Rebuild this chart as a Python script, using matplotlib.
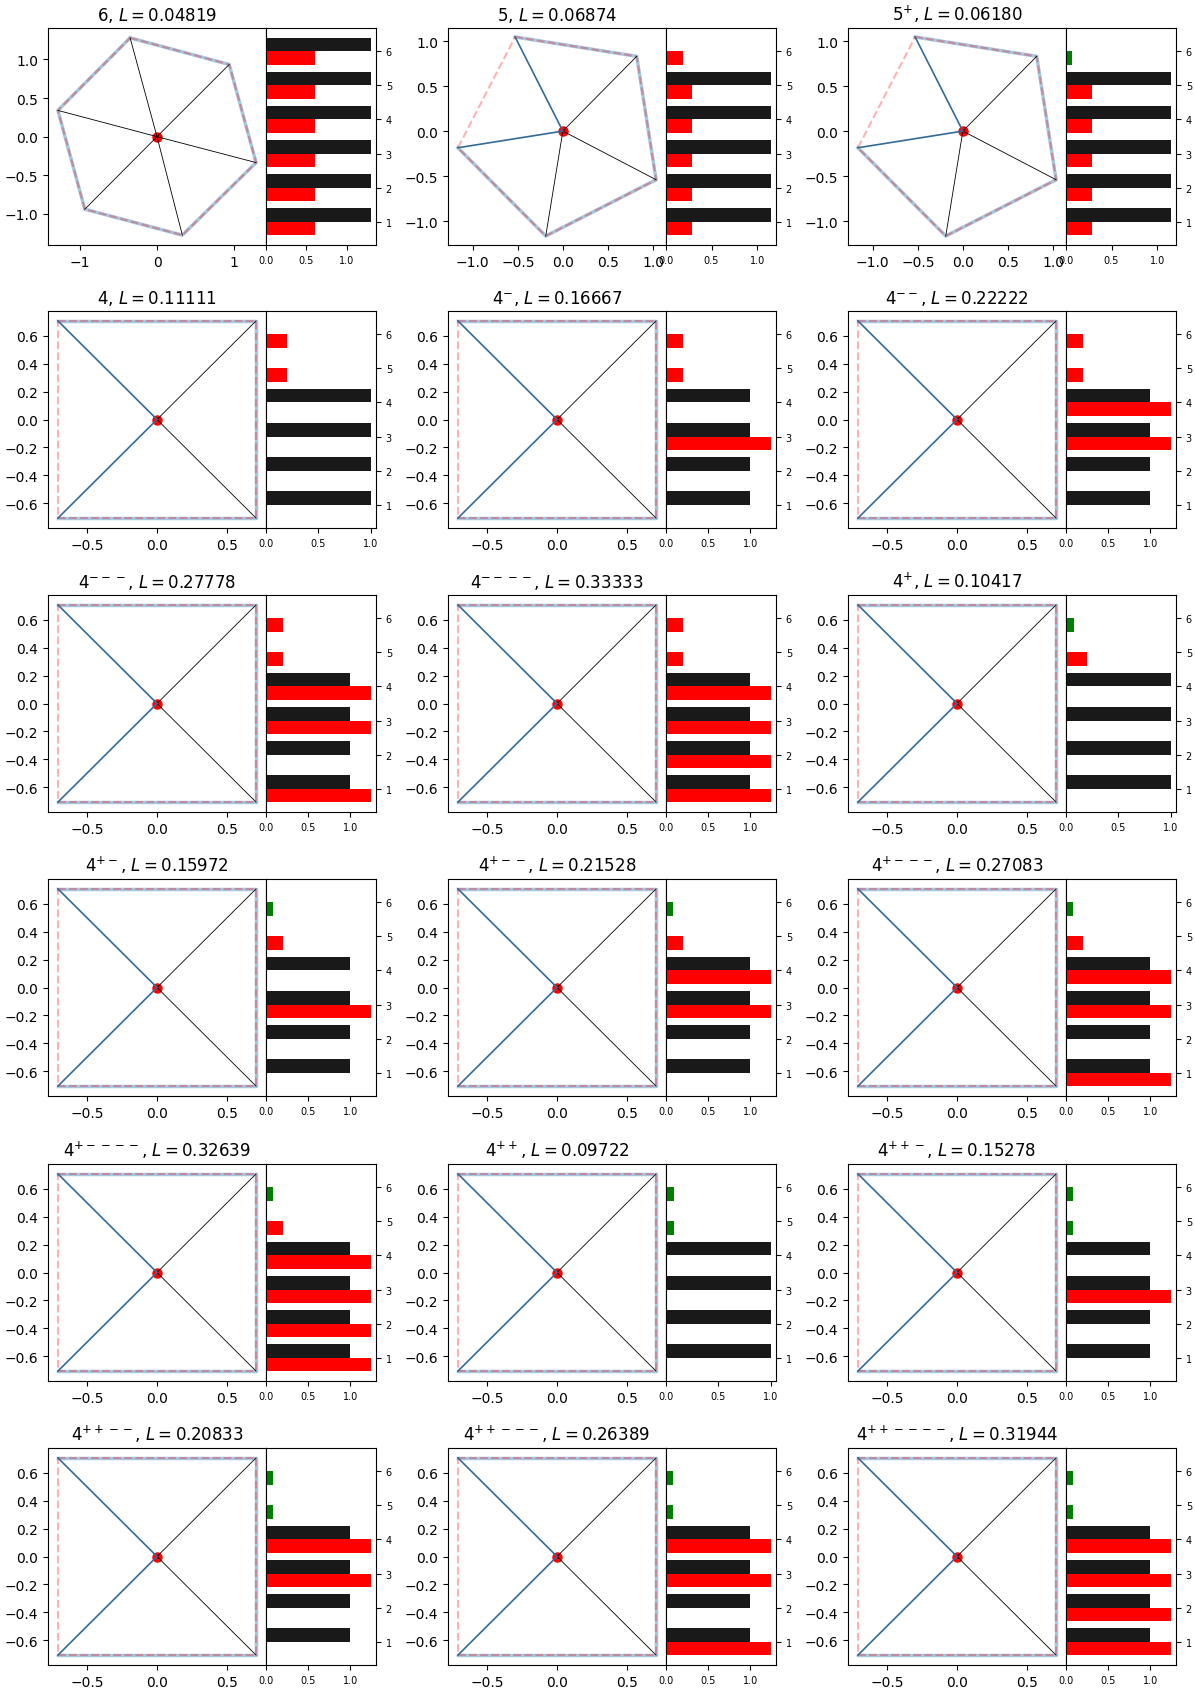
import numpy as np
import matplotlib
matplotlib.use("Agg")
import matplotlib.pyplot as plt
from matplotlib.ticker import MultipleLocator

# configuration names and their L values
labels = ["6", "5", "5^{+}", "4", "4^{-}", "4^{--}", "4^{---}", "4^{----}",
          "4^{+}", "4^{+-}", "4^{+--}", "4^{+---}", "4^{+----}",
          "4^{++}", "4^{++-}", "4^{++--}", "4^{++---}", "4^{++----}"]
L_vals = [0.04819, 0.06874, 0.06180, 0.11111, 0.16667, 0.22222, 0.27778, 0.33333,
          0.10417, 0.15972, 0.21528, 0.27083, 0.32639,
          0.09722, 0.15278, 0.20833, 0.26389, 0.31944]
shape_of = ["hex", "pent", "pent"] + ["sq"] * 15

# polygon vertices (open polygons have their gap between last and first vertex)
hex_x = [-0.35, 0.94, 1.29, 0.33, -0.94, -1.29]
hex_y = [1.28, 0.935, -0.336, -1.276, -0.94, 0.34]
pent_x = [-0.53, 0.82, 1.035, -0.19, -1.165]
pent_y = [1.045, 0.83, -0.54, -1.165, -0.185]
sq_x = [-0.707, 0.707, 0.707, -0.707]
sq_y = [0.707, 0.707, -0.707, -0.707]
shapes = {"hex": (hex_x, hex_y, False),
          "pent": (pent_x, pent_y, True),
          "sq": (sq_x, sq_y, True)}

# bar values for slots 1..6
black_bars = [[1.30] * 6, [1.15] * 5 + [0], [1.15] * 5 + [0]] + [[1, 1, 1, 1, 0, 0]] * 15
red_bars = [
    [0.61] * 6,
    [0.28] * 5 + [0.19],
    [0.28] * 5 + [0],
    [0, 0, 0, 0, 0.2, 0.2],
    [0, 0, 1.24, 0, 0.2, 0.2],
    [0, 0, 1.24, 1.24, 0.2, 0.2],
    [1.24, 0, 1.24, 1.24, 0.2, 0.2],
    [1.24, 1.24, 1.24, 1.24, 0.2, 0.2],
    [0, 0, 0, 0, 0.2, 0],
    [0, 0, 1.24, 0, 0.2, 0],
    [0, 0, 1.24, 1.24, 0.2, 0],
    [1.24, 0, 1.24, 1.24, 0.2, 0],
    [1.24, 1.24, 1.24, 1.24, 0.2, 0],
    [0, 0, 0, 0, 0, 0],
    [0, 0, 1.24, 0, 0, 0],
    [0, 0, 1.24, 1.24, 0, 0],
    [1.24, 0, 1.24, 1.24, 0, 0],
    [1.24, 1.24, 1.24, 1.24, 0, 0],
]
green_bars = [
    [0] * 6, [0] * 6, [0, 0, 0, 0, 0, 0.07],
    [0] * 6, [0] * 6, [0] * 6, [0] * 6, [0] * 6,
    [0, 0, 0, 0, 0, 0.08], [0, 0, 0, 0, 0, 0.08], [0, 0, 0, 0, 0, 0.08],
    [0, 0, 0, 0, 0, 0.08], [0, 0, 0, 0, 0, 0.08],
    [0, 0, 0, 0, 0.08, 0.08], [0, 0, 0, 0, 0.08, 0.08], [0, 0, 0, 0, 0.08, 0.08],
    [0, 0, 0, 0, 0.08, 0.08], [0, 0, 0, 0, 0.08, 0.08],
]

W, H = 1195, 1690
col_x = [48, 448, 848]
row_y = [29, 312, 596, 880, 1165, 1449]
poly_w, bar_w, panel_h = 218, 110, 217


def rect(x, y, w, h):
    return [x / W, 1 - (y + h) / H, w / W, h / H]


def draw_polygon(ax, xs, ys, has_gap):
    n = len(xs)
    closed_x, closed_y = xs + [xs[0]], ys + [ys[0]]
    if has_gap:
        ax.plot(xs, ys, color="C0", alpha=0.4, lw=2.5)
    else:
        ax.plot(closed_x, closed_y, color="C0", alpha=0.4, lw=2.5)
    ax.plot(closed_x, closed_y, "r--", alpha=0.3, lw=1.5)
    ax.plot(0, 0, "ro", ms=6.5)
    for j in range(n):
        edge = has_gap and j in (0, n - 1)
        ax.plot([0, xs[j]], [0, ys[j]], color="#336b98" if edge else "k",
                lw=1.2 if edge else 0.6)
    ax.set_aspect("equal", adjustable="datalim")


def draw_bars(bx, black, red, green):
    pos = np.arange(1, 7)
    bx.barh(pos + 0.2, black, height=0.4, color="k", alpha=0.9)
    bx.barh(pos - 0.2, red, height=0.4, color="r")
    bx.barh(pos - 0.2, green, height=0.4, color="g")
    bx.yaxis.tick_right()
    bx.set_yticks(pos)
    bx.xaxis.set_major_locator(MultipleLocator(0.5))
    bx.tick_params(labelsize=7)


fig = plt.figure(figsize=(W / 100, H / 100), dpi=100)
for i in range(len(labels)):
    r, c = divmod(i, 3)
    ax = fig.add_axes(rect(col_x[c], row_y[r], poly_w, panel_h))
    bx = fig.add_axes(rect(col_x[c] + poly_w, row_y[r], bar_w, panel_h))
    xs, ys, has_gap = shapes[shape_of[i]]
    draw_polygon(ax, xs, ys, has_gap)
    if shape_of[i] == "sq":
        ax.yaxis.set_major_locator(MultipleLocator(0.2))
    draw_bars(bx, black_bars[i], red_bars[i], green_bars[i])
    ax.set_title(f"${labels[i]}$, $L = {L_vals[i]:.5f}$", fontsize=12)

fig.savefig("out.png", dpi=100)
